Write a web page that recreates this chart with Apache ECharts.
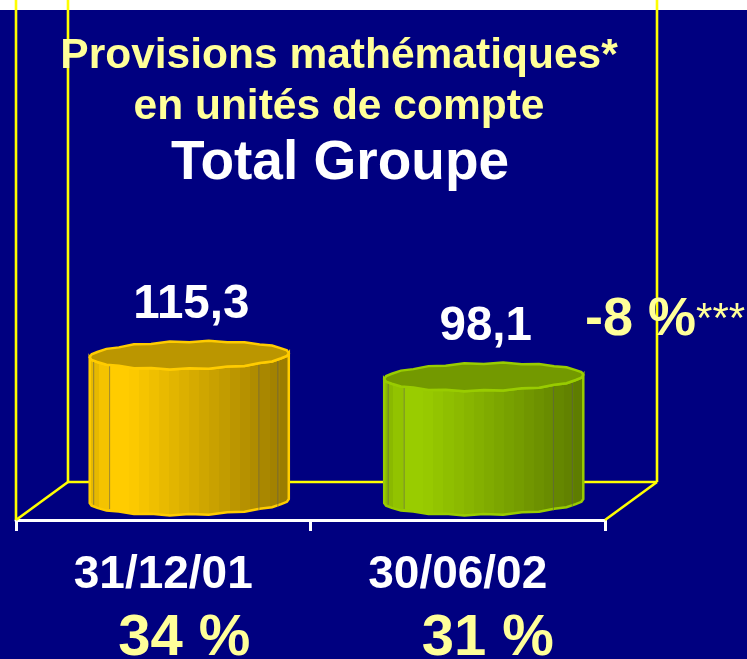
<!DOCTYPE html>
<html>
<head>
<meta charset="utf-8">
<style>
html, body { margin: 0; padding: 0; background: #000080; }
#chart { width: 747px; height: 659px; }
</style>
<script src="https://cdn.jsdelivr.net/npm/echarts@6/dist/echarts.min.js"></script>
</head>
<body>
<div id="chart"></div>
<script>
// data
var dates = ['31/12/01', '30/06/02'];
var provisions = [115.3, 98.1];
var shares = [34, 31];
var titleLines = ['Provisions mathématiques*', 'en unités de compte', 'Total Groupe'];
var changeText = '-8 %';
var changeNote = '***';

var FONT = '"Liberation Sans", Arial, sans-serif';
var YELLOW = '#ffff99';
var depthX = 52, depthY = 38; // floor depth of the fake 3d box
var barColors = [[255, 204, 0], [153, 204, 0]];
var rimColors = ['#ffcc00', '#99cc00'];
var topColors = ['#bb9600', '#739900'];

// darkens from left to right in flat steps, like the original facets
function bodyGradient(rgb) {
    var stops = [];
    var n = 20;
    for (var i = 0; i < n; i++) {
        var t = (i + 0.5) / n;
        var f = t < 0.12 ? 0.88 + t : (t < 0.2 ? 1 : 1 - (t - 0.2) * 0.5);
        var c = 'rgb(' + Math.round(rgb[0] * f) + ',' + Math.round(rgb[1] * f) + ',' + Math.round(rgb[2] * f) + ')';
        stops.push({ offset: i / n, color: c });
        stops.push({ offset: (i + 1) / n, color: c });
    }
    return new echarts.graphic.LinearGradient(0, 0, 1, 0, stops);
}

// point on the slightly tilted, slightly wobbly rim
function rimPoint(cx, cy, rx, ry, a, i) {
    var wob = i % 2 ? 0.8 : -0.5;
    var x = cx + rx * Math.cos(a);
    var y = cy + (ry + wob) * Math.sin(a) - 2 * Math.cos(a);
    return [x, y];
}

function renderCylinder(params, api) {
    var idx = params.dataIndex;
    var base = api.coord([api.value(0), 0]);
    var top = api.coord([api.value(0), api.value(1)]);
    var rx = api.size([1, 0])[0] * 0.338;
    var ry = 13.5;
    var cx = base[0] + depthX / 2;
    var yBase = base[1] - depthY / 2;
    var yTop = top[1] - depthY / 2;
    var n = 32;
    var body = [], ring = [], i, a;

    // front of the top rim left to right, then front of the base right to left
    for (i = 0; i <= n / 2; i++) {
        a = Math.PI - i * 2 * Math.PI / n;
        body.push(rimPoint(cx, yTop, rx, ry, a, i));
    }
    for (i = 0; i <= n / 2; i++) {
        a = i * 2 * Math.PI / n;
        body.push(rimPoint(cx, yBase, rx, ry, a, i));
    }
    for (i = 0; i < n; i++) {
        ring.push(rimPoint(cx, yTop, rx, ry, i * 2 * Math.PI / n, i));
    }

    var children = [{
        type: 'polygon',
        shape: { points: body },
        style: { fill: bodyGradient(barColors[idx]), stroke: rimColors[idx], lineWidth: 2.5 }
    }];

    // thin facet lines
    [0.02, 0.1, 0.85, 0.945].forEach(function (p) {
        var lx = cx - rx + 2 * rx * p;
        var s = Math.sqrt(1 - Math.pow((lx - cx) / rx, 2));
        children.push({
            type: 'line',
            shape: { x1: lx, y1: yTop + ry * s, x2: lx, y2: yBase + ry * s },
            style: { stroke: 'rgba(90,90,80,0.6)', lineWidth: 1 }
        });
    });

    children.push({
        type: 'polygon',
        shape: { points: ring },
        style: { fill: topColors[idx], stroke: rimColors[idx], lineWidth: 2.5 }
    });
    children.push({
        type: 'text',
        style: {
            text: String(api.value(1)).replace('.', ','),
            x: cx + 2, y: yTop - 50,
            align: 'center', verticalAlign: 'middle',
            fill: '#ffffff', font: 'bold 47.5px ' + FONT
        }
    });
    return { type: 'group', children: children };
}

function renderShare(params, api) {
    var p = api.coord([api.value(0), 0]);
    return {
        type: 'text',
        style: {
            text: api.value(1) + ' %',
            x: p[0] + (params.dataIndex ? 30 : 21), y: 639,
            align: 'center', verticalAlign: 'middle',
            fill: YELLOW, font: 'bold 58px ' + FONT
        }
    };
}

// back walls and floor sides, drawn from the corners of the grid
function renderFrame(params, api) {
    var rect = params.coordSys;
    var x0 = rect.x, x1 = rect.x + rect.width, y0 = rect.y + rect.height;
    var segs = [
        [x0, 0, x0, y0],
        [x0 + depthX, 0, x0 + depthX, y0 - depthY],
        [x1 + depthX, 0, x1 + depthX, y0 - depthY],
        [x0 + depthX, y0 - depthY, x1 + depthX, y0 - depthY],
        [x0, y0, x0 + depthX, y0 - depthY],
        [x1, y0, x1 + depthX, y0 - depthY]
    ];
    return {
        type: 'group',
        children: segs.map(function (s) {
            return {
                type: 'line',
                shape: { x1: s[0], y1: s[1], x2: s[2], y2: s[3] },
                style: { stroke: '#ffff00', lineWidth: 2.6 }
            };
        })
    };
}

var chart = echarts.init(document.getElementById('chart'));
chart.setOption({
    animation: false,
    backgroundColor: '#000080',
    graphic: [{
        type: 'rect',
        z: -1,
        shape: { x: 0, y: 0, width: 747, height: 10 },
        style: { fill: '#ffffff' }
    }],
    title: [
        { text: titleLines[0], left: 334, top: 30, textAlign: 'center', textStyle: { color: YELLOW, fontFamily: FONT, fontWeight: 'bold', fontSize: 42.5 } },
        { text: titleLines[1], left: 334, top: 81, textAlign: 'center', textStyle: { color: YELLOW, fontFamily: FONT, fontWeight: 'bold', fontSize: 42.5 } },
        { text: titleLines[2], left: 335, top: 131, textAlign: 'center', textStyle: { color: '#ffffff', fontFamily: FONT, fontWeight: 'bold', fontSize: 55 } },
        {
            text: '{a|' + changeText + '}{b|' + changeNote + '}',
            left: 580, top: 288,
            textStyle: {
                rich: {
                    a: { color: YELLOW, fontFamily: FONT, fontWeight: 'bold', fontSize: 54 },
                    b: { color: YELLOW, fontFamily: FONT, fontWeight: 'normal', fontSize: 42 }
                }
            }
        }
    ],
    grid: { left: 16, width: 589, top: 14, height: 506 },
    xAxis: {
        type: 'category',
        data: dates,
        axisLine: { show: true, lineStyle: { color: '#ffffff', width: 3 } },
        axisTick: { show: true, length: 11, lineStyle: { color: '#ffffff', width: 3 } },
        axisLabel: { color: '#ffffff', fontFamily: FONT, fontWeight: 'bold', fontSize: 46, margin: 32 }
    },
    yAxis: { type: 'value', min: 0, max: 400, show: false },
    series: [
        { type: 'custom', name: 'frame', z: 1, clip: false, silent: true, data: [[0, 0]], renderItem: renderFrame },
        {
            type: 'custom', name: 'Provisions', z: 3, clip: false,
            encode: { x: 0, y: 1 },
            data: provisions.map(function (v, i) { return [i, v]; }),
            renderItem: renderCylinder
        },
        {
            type: 'custom', name: 'Part', z: 3, clip: false,
            encode: { x: 0 },
            data: shares.map(function (v, i) { return [i, v]; }),
            renderItem: renderShare
        }
    ]
});
</script>
</body>
</html>
